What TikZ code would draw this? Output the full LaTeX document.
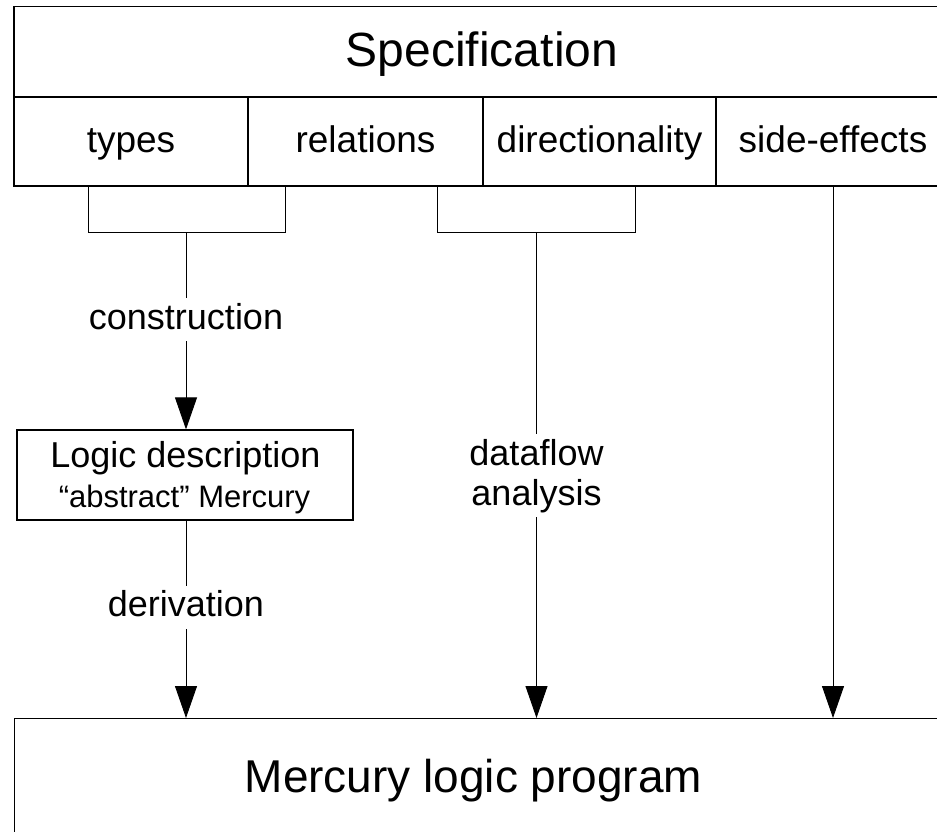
\documentclass[tikz,border=0pt]{standalone}
\usepackage{fontspec}
\setmainfont{Liberation Sans}
\usetikzlibrary{arrows.meta}
\begin{document}
\begin{tikzpicture}[x=1pt,y=-1pt,
  boxline/.style={draw=black, line width=1.2pt, inner sep=0pt},
  bigfont/.style={font=\fontsize{48}{54}\selectfont},
  midfont/.style={font=\fontsize{36}{40}\selectfont},
  subfont/.style={font=\fontsize{37}{41}\selectfont},
  smallfont/.style={font=\fontsize{31}{36}\selectfont},
  subbox/.style={boxline, subfont, minimum height=89pt, text height=30.3pt, text depth=7.4pt},
  conn/.style={draw=black, line width=0.9pt},
  arr/.style={conn, -{Triangle[length=32pt,width=22pt]}},
  lbl/.style={midfont, fill=white, inner xsep=2pt, inner ysep=4pt, text height=27pt, text depth=8pt, anchor=base}]
\useasboundingbox (0,0) rectangle (937,832);
\clip (0,0) rectangle (937,832);

% top specification box
\node[boxline, bigfont, minimum width=936pt, minimum height=90.5pt, text height=38.5pt, text depth=9.6pt] (spec) at (482,51.75) {Specification};
\node[subbox, minimum width=234pt] (types) at (131,141.5) {types};
\node[subbox, minimum width=235pt] (relations) at (365.5,141.5) {relations};
\node[subbox, minimum width=233pt] (directionality) at (599.5,141.5) {directionality};
\node[subbox, minimum width=234pt] (sideeffects) at (833,141.5) {side-effects};

% bottom box
\node[boxline, minimum width=940pt, minimum height=200pt, anchor=north west] (mlp) at (14,718) {};
\node[font=\fontsize{46}{52}\selectfont, anchor=base] (mlptext) at (473.5,792) {Mercury logic program};

% logic description box
\node[boxline, minimum width=336pt, minimum height=90pt] (logic) at (185,475) {};
\node[midfont, anchor=base] (logic1) at (185.5,467) {Logic description};
\node[smallfont, anchor=base] (logic2) at (184.5,507) {“abstract” Mercury};

% brackets
\coordinate (b1l) at (88,186);
\coordinate (b1r) at (285,186);
\coordinate (b1) at (186,232);
\draw[conn] (b1l) |- (b1r |- b1) -- (b1r);
\coordinate (b2l) at (437,186);
\coordinate (b2r) at (635.5,186);
\coordinate (b2) at (536.5,232);
\draw[conn] (b2l) |- (b2r |- b2) -- (b2r);

% connectors
\draw[arr] (b1) -- (b1 |- logic.north);
\node[lbl] (cons) at (186,329.3) {construction};

\draw[arr] (b1 |- logic.south) -- (b1 |- mlp.north);
\node[lbl] (deriv) at (186,616.7) {derivation};

\draw[arr] (b2) -- (b2 |- mlp.north);
\node[lbl] (df1) at (536.5,465) {dataflow};
\node[lbl] (df2) at (536.5,505) {analysis};

\draw[arr] (sideeffects.south) -- (sideeffects.south |- mlp.north);
\end{tikzpicture}
\end{document}
